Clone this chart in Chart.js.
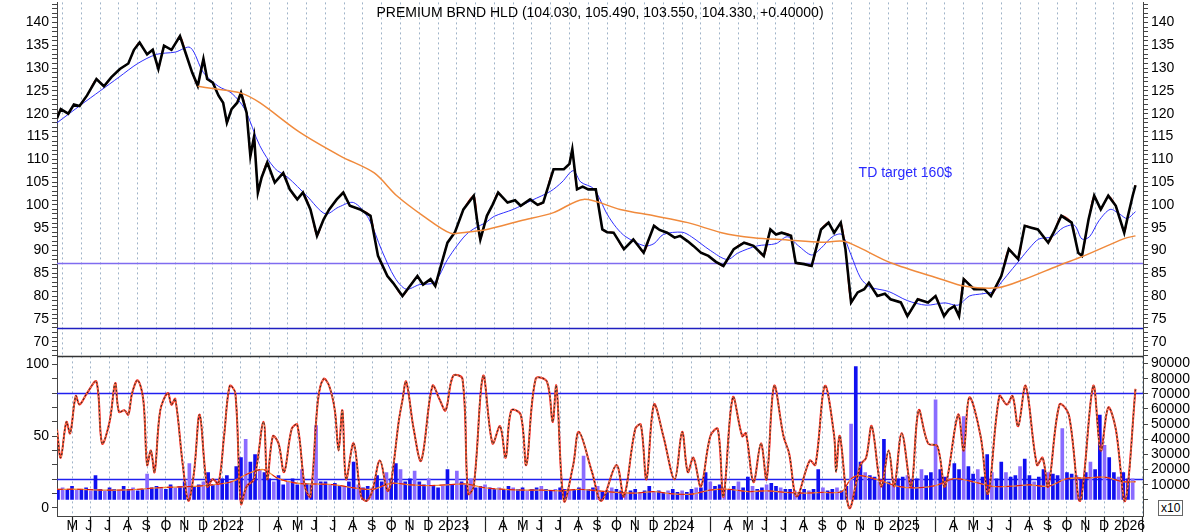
<!DOCTYPE html>
<html><head><meta charset="utf-8">
<script src="https://cdn.jsdelivr.net/npm/chart.js@4"></script>
<style>
html,body{margin:0;padding:0;background:#fff;}
#wrap{position:relative;width:1200px;height:532px;overflow:hidden;}
#c1{position:absolute;left:0;top:-9px;}
#c2{position:absolute;left:0;top:345px;}
#title{position:absolute;left:0;width:1200px;top:4px;text-align:center;font:14px "Liberation Sans",Arial,sans-serif;color:#000;}
#x10{position:absolute;left:1158px;top:500px;font:12px "Liberation Sans",Arial;border:1px solid #666;padding:0 2px;background:#fff;}
</style></head><body>
<div id="wrap">
<canvas id="c1" width="1200" height="378"></canvas>
<canvas id="c2" width="1200" height="188"></canvas>
<div id="title">PREMIUM BRND HLD (104.030, 105.490, 103.550, 104.330, +0.40000)</div>
<div id="x10">x10</div>
</div>
<script>
// time unit: months since Jan 2021
const monthLetters = ['J','F','M','A','M','J','J','A','S','O','N','D'];
const annotation = 'TD target 160$';
const levelLines = [87.3, 73];
const oscLevels = [80, 20];

const priceT = [3.7,3.9,4.3,4.6,4.9,5.3,5.8,6.2,6.6,7.05,7.5,7.8,8.1,8.5,8.8,9.1,9.4,9.8,10.25,10.6,10.9,11.2,11.5,11.7,12.0,12.3,12.55,12.75,13.0,13.3,13.5,13.8,14.0,14.2,14.4,14.6,14.9,15.3,15.75,16.1,16.5,16.8,17.2,17.55,17.9,18.2,18.6,18.95,19.3,19.85,20.4,20.8,21.3,21.6,22.1,22.5,22.9,23.2,23.6,23.85,24.1,24.5,24.9,25.35,25.9,26.1,26.25,26.6,26.9,27.2,27.7,28.1,28.4,28.9,29.3,29.6,30.15,30.7,31.0,31.15,31.4,31.7,32.0,32.4,32.75,33.0,33.35,33.9,34.4,34.95,35.5,35.8,36.2,36.6,36.9,37.3,37.6,38.0,38.4,38.8,39.2,39.75,40.3,40.8,41.35,41.7,42.0,42.3,42.8,43.05,43.5,43.9,44.4,44.8,45.1,45.45,45.7,46.0,46.35,46.7,46.95,47.4,47.8,48.1,48.65,49.0,49.55,50.1,50.5,50.95,51.2,51.5,51.75,52.0,52.55,53.1,53.45,54.0,54.4,54.9,55.25,55.6,55.95,56.5,56.8,57.2,57.75,58.1,58.3,58.65,58.95,59.3,59.7,60.1,60.55,60.75,61.0,61.15];
const priceV = [119,121,120,122,121.7,124,127.6,126,128,129.8,131,134,135.6,133,134,129.8,134.9,134,137,132.7,129,126.1,132,127.6,126.8,124,122.4,118,121,122.4,124.6,120.2,110.7,115,102.7,106,109.3,104.9,107,103.4,101.2,102.7,99,93.2,96.8,99,101.2,102.7,99.8,99,97.6,88.8,84.4,82.9,80,82.2,84.4,82.5,83.7,82.2,85.9,91.7,94,99,102,96,92.4,97.6,100,102.7,100.5,101,99.8,101.2,100,100.5,107.8,107.8,109,112.2,103.4,104,103.4,103.4,94.6,94,93.9,90.3,92.4,89.5,95.4,94.5,93.9,92.8,93.2,92,91,89.5,88.8,87.5,86.6,90.3,91.7,91,88.8,94.6,93.5,93.9,93.2,87.3,87,86.6,94.6,96.1,93.9,96.1,90.3,78.6,80.8,81.5,82.9,80,80.5,79.3,78.6,75.6,79.3,78.6,80,75.6,77,77.8,75.6,83.7,81.5,81.5,80,84.4,90.3,88.1,95.4,95,94.6,91.7,94,97.6,96.1,89.5,88.8,96.8,102,99,102,99.8,93.9,97.6,102,104.3];

const maShortT = [3.7,5,6,7,8,9,10,10.8,11.5,12.3,13,13.7,14.5,15.3,16,17,18,18.7,19.5,20.3,21,21.7,22.3,23,23.8,24.5,25,25.5,26,26.5,27,28,29,30,30.6,31.2,31.6,32.3,33,33.5,34,35,35.5,36,37,37.5,38.5,39.4,40,41,42,42.6,43.2,43.9,44.4,45,45.5,46,46.5,47,48,49,50,51,51.7,52.3,53,53.6,54,54.6,55,55.5,56,56.7,57.3,57.9,58.3,58.7,59.2,59.8,60.3,60.7,61.15];
const maShortV = [118,122,125,128,131,133,133.5,134.5,129,126,124.5,121,113,108,106,102,98,99.5,100.5,97,90,84,81.5,82.5,83,88,91,93.5,95,96,97.5,99,101,103,105,107.5,105,103.5,98,95,93,91,91.5,93.5,94,93,90,88,89.5,91,91.5,93,91,89,90.5,93,93.5,89,84,82,81,79,78,78.5,78,80,80.5,81,83,86,88,90.5,92.5,93,95,95.5,92.5,93,96.5,99,98,97,98.5];

const maLongT = [11.2,12,13.5,14.5,16.6,18.8,20.6,21.8,23.2,24.65,25.5,26.6,28.4,30.15,31.75,33.7,35.5,37.3,39.1,40.8,42.6,44.4,45.6,46.5,48.1,50.8,52,53.8,55.25,57,58.4,60.55,61.15];
const maLongV = [126,125.5,124.5,122.4,116,110.7,107,102,97.6,93.8,94,94.6,96.5,98.3,101.2,99,97.6,96.1,93.9,92.8,92.3,91.8,92,90.5,87.3,83.7,82.2,81.8,83.7,86.6,88.8,92.6,93.2];

const oscT = [3.7,3.9,4.2,4.4,4.7,4.9,5.3,5.8,6.1,6.5,6.8,7.0,7.3,7.5,7.7,8.0,8.3,8.5,8.7,8.9,9.2,9.6,9.8,10.0,10.4,10.7,11.0,11.3,11.7,12.0,12.3,12.6,12.9,13.2,13.5,13.8,14.2,14.7,14.9,15.2,15.5,15.8,16.2,16.5,16.9,17.2,17.6,17.9,18.2,18.5,18.7,18.9,19.1,19.5,19.9,20.2,20.5,20.9,21.3,21.5,21.9,22.1,22.3,22.7,23.1,23.7,24.1,24.4,24.8,25.3,25.6,25.9,26.4,26.9,27.3,27.6,27.9,28.4,28.7,29.2,29.8,30.1,30.3,30.7,31.2,31.5,32.2,32.7,33.5,33.9,34.5,34.8,35.1,35.5,36.0,36.6,37.0,37.3,37.6,38.0,38.5,38.9,39.2,39.7,40.2,40.4,40.8,41.2,41.5,41.9,42.4,42.7,43.1,43.8,44.1,44.6,45.1,45.2,45.4,45.9,46.5,46.8,47.1,47.6,48.0,48.3,48.7,49.2,49.6,50.1,50.6,51.0,51.7,52.0,52.3,52.9,53.3,53.9,54.3,54.6,54.9,55.3,55.9,56.2,56.5,57.1,57.6,58.2,58.9,59.3,59.7,60.1,60.6,61.15];
const oscV = [55,35,60,52,78,72,80,88,45,60,87,67,68,65,80,89,75,30,40,25,68,80,72,76,30,5,25,65,15,20,17,50,85,80,3,15,20,60,20,50,45,25,55,58,15,8,75,90,85,68,40,68,20,45,8,5,12,33,12,18,60,75,88,55,33,85,75,68,92,90,10,15,92,45,57,35,68,65,30,90,88,60,85,5,30,53,25,5,30,8,55,58,20,72,50,20,53,25,35,15,50,55,8,77,50,52,18,45,20,85,50,38,8,33,30,85,50,25,50,0,30,35,57,15,40,15,52,15,68,45,43,15,65,40,77,50,10,78,72,78,57,85,30,35,15,72,65,5,85,40,70,55,5,83];

// weekly volume (thousands), from late Apr 2021, 4 per month
const volStart = 3.75;
const volK = [7,
 8,7,9,7, 7,8,6,16, 7,6,8,7, 6,9,7,8, 6,7,17,8, 9,8,7,10, 8,9,12,24, 9,10,12,18,
 10,12,14,16, 12,22,28,40, 25,30,20,18, 14,12,16,10, 12,14,10,20, 11,10,49,12, 12,10,11,9, 9,12,25,10, 8,9,8,16, 12,18,14,24, 20,12,14,19, 12,10,14,9,
 8,9,20,10, 19,12,10,14, 8,9,10,8, 7,8,7,9, 8,7,8,6, 7,8,9,7, 6,7,8,7, 6,7,8,29, 7,8,9,5, 6,8,7,6, 5,6,7,5, 6,9,5,6,
 5,6,7,5, 6,5,7,8, 8,18,12,9, 10,8,7,9, 12,8,15,9, 7,8,10,11, 9,8,7,7, 6,5,7,6, 7,20,8,6, 7,8,6,9, 50,88,25,18, 16,15,12,40,
 12,10,14,15, 16,13,14,20, 16,18,66,20, 15,14,24,20, 55,22,17,20, 15,30,18,14, 25,18,15,16, 22,27,16,12, 15,20,18,17, 16,47,18,17, 16,14,18,25, 20,56,36,28,
 18,15,18,14, 14];
const volMaT = [3.7,5,6,7,8,9,10,11,12,13,14,14.7,15.5,16.5,17.5,18.5,19.5,20.5,21.5,22.5,23.5,24.5,25.5,26.5,27.5,28.5,29.5,30.5,31.5,32.5,33.5,34.5,35.5,36.5,37.5,38.5,39.5,40.5,41.5,42.5,43.5,44.5,45.5,46,46.5,47.5,48.5,49.5,50.5,51.5,52.5,53.5,54.5,55.5,56.5,57.5,58.5,59.5,60.5,61.15];
const volMaK = [7,7,6.5,6.5,7,8,8.5,9,10,12,18,20,14,11,10.5,10,8,7,11,10,9.5,10,10.5,8,7,6.5,6.5,6,7,6,5,4.5,5.5,4,3.8,6.5,7,5.5,6,5,4.5,5,5.5,14,16,13,9,8,9.5,14,12,9,9,10,9,14,14.5,15,12,12];

const XMIN = 3.7, XMAX = 61.55;
const FONT = '"Liberation Sans", Arial, sans-serif';
const pts = (t, v, k=1) => t.map((x, i) => ({x, y: v[i]*k}));
const range = (a, b, s) => { const r=[]; for(let v=a; v<=b+1e-9; v+=s) r.push({value:Math.round(v*1000)/1000}); return r; };
const setTicks = (a,b,s) => sc => { sc.ticks = range(a,b,s); };
function fixW(w){ return s => { s.width = w; }; }

const lineAt = (scaleId, vals, colors) => ({
  id:'lines'+scaleId,
  beforeDatasetsDraw(ch){
    const {ctx, chartArea:a} = ch; const s = ch.scales[scaleId];
    vals.forEach((v,i)=>{ const y = Math.round(s.getPixelForValue(v))+0.5;
      ctx.save(); ctx.strokeStyle = colors[i]; ctx.lineWidth = 1.3;
      ctx.beginPath(); ctx.moveTo(a.left,y); ctx.lineTo(a.right,y); ctx.stroke(); ctx.restore(); });
  }
});
const yTickStyle = {autoSkip:false, color:'#000', font:{family:FONT,size:14}, padding:3};
const yGrid = {drawOnChartArea:false, color:'#444', tickLength:5};

new Chart(document.getElementById('c1'), {
  type:'line',
  data:{datasets:[
    {data:pts(maLongT,maLongV), borderColor:'#f08a3c', borderWidth:1.5, pointRadius:0, tension:0.3},
    {data:pts(priceT,priceV), borderColor:'#000', borderWidth:2.6, pointRadius:0, tension:0},
    {data:pts(priceT,priceV), borderColor:'#e02000', borderWidth:1, pointRadius:0, tension:0.3},
    {data:pts(maShortT,maShortV), borderColor:'#3030ff', borderWidth:1, pointRadius:0, tension:0.3}
  ]},
  plugins:[lineAt('y', levelLines, ['#7f6cf0','#2020c0']), {
    id:'ann', afterDatasetsDraw(ch){ const c=ch.ctx;
      c.save(); c.font='14px '+FONT; c.fillStyle='#2a2aff'; c.textBaseline='middle';
      c.fillText(annotation, ch.scales.x.getPixelForValue(46.4), ch.scales.y.getPixelForValue(107)); c.restore(); }
  }],
  options:{animation:false, responsive:false, maintainAspectRatio:false,
    layout:{padding:{top:0,bottom:1}},
    plugins:{legend:{display:false}, tooltip:{enabled:false}},
    scales:{
      x:{type:'linear', min:XMIN, max:XMAX, grid:{color:'#9fb3c8', drawTicks:false, tickLength:0},
         border:{display:false, dash:[2,3]}, afterBuildTicks:setTicks(4,61,1),
         ticks:{display:false}, afterFit:s=>{s.height=0;}},
      y:{position:'left', min:66.5, max:144.4, afterFit:fixW(57), afterBuildTicks:setTicks(67,144,1),
         grid:yGrid, border:{color:'#444'},
         ticks:{...yTickStyle, callback:v=> (v%5===0 && v>=70 && v<=140) ? v : ''}},
      y2:{position:'right', min:66.5, max:144.4, afterFit:fixW(57), afterBuildTicks:setTicks(67,144,1),
         grid:yGrid, border:{color:'#444'},
         ticks:{...yTickStyle, callback:v=> (v%5===0 && v>=70 && v<=140) ? v : ''}}
    }}
});

const volData = volK.map((v,i)=>({x:volStart+i*0.25, y:v*1000}));
new Chart(document.getElementById('c2'), {
  data:{datasets:[
    {type:'bar', yAxisID:'yv', data:volData, barThickness:3,
     backgroundColor:c=> (c.dataIndex%3===1 ? '#8a6cff' : '#1010f0'), order:5},
    {type:'line', yAxisID:'yv', data:pts(volMaT,volMaK,1000), borderColor:'#f0903c', borderWidth:1.3, pointRadius:0, tension:0.3, order:4},
    {type:'line', yAxisID:'yv', data:pts(volMaT,volMaK,1000), borderColor:'#e01010', borderWidth:1, borderDash:[6,4], pointRadius:0, tension:0.3, order:3},
    {type:'line', yAxisID:'y', data:pts(oscT,oscV), borderColor:'#ff1010', borderWidth:2, pointRadius:0, tension:0.35, order:2},
    {type:'line', yAxisID:'y', data:pts(oscT,oscV), borderColor:'#f0a060', borderWidth:1, pointRadius:0, tension:0.35, order:1},
    {type:'line', yAxisID:'y', data:pts(oscT,oscV), borderColor:'#222', borderWidth:1, borderDash:[2,2], pointRadius:0, tension:0.35, order:0}
  ]},
  plugins:[lineAt('y', oscLevels, ['#2020f0','#2020f0']), {
    id:'topline', afterDraw(ch){ const c=ch.ctx, a=ch.chartArea; const y=Math.round(a.top)+0.5;
      c.save(); c.strokeStyle='#333'; c.lineWidth=1.5; c.beginPath(); c.moveTo(a.left,y); c.lineTo(a.right,y); c.stroke(); c.restore(); }
  }],
  options:{animation:false, responsive:false, maintainAspectRatio:false,
    layout:{padding:0},
    plugins:{legend:{display:false}, tooltip:{enabled:false}},
    scales:{
      x:{type:'linear', min:XMIN, max:XMAX, offset:false, afterBuildTicks:setTicks(4,61,1),
         grid:{color:'#9fb3c8', tickLength:17, tickColor:'#222', tickBorderDash:[], tickWidth:1.2},
         border:{color:'#444', dash:[2,3]}, afterFit:s=>{s.height=17;},
         ticks:{autoSkip:false, maxRotation:0, align:'start', padding:-15, color:'#000',
           font:{family:FONT,size:14},
           callback:v=>{ const mo=((v%12)+12)%12;
             if(mo===0) return String(2021+v/12); if(mo===1||mo===2) return ''; return ' '+monthLetters[mo]; }}},
      y:{position:'left', min:-5.6, max:105.6, afterFit:fixW(57), afterBuildTicks:setTicks(0,100,10),
         grid:yGrid, border:{color:'#444'},
         ticks:{...yTickStyle, callback:v=> (v===0||v===50||v===100) ? v : ''}},
      yv:{position:'right', min:-10600, max:94700, afterFit:fixW(57), afterBuildTicks:setTicks(0,90000,10000),
         grid:yGrid, border:{color:'#444'},
         ticks:{...yTickStyle, callback:v=> (v>=10000) ? v : ''}}
    }}
});
</script>
</body></html>
